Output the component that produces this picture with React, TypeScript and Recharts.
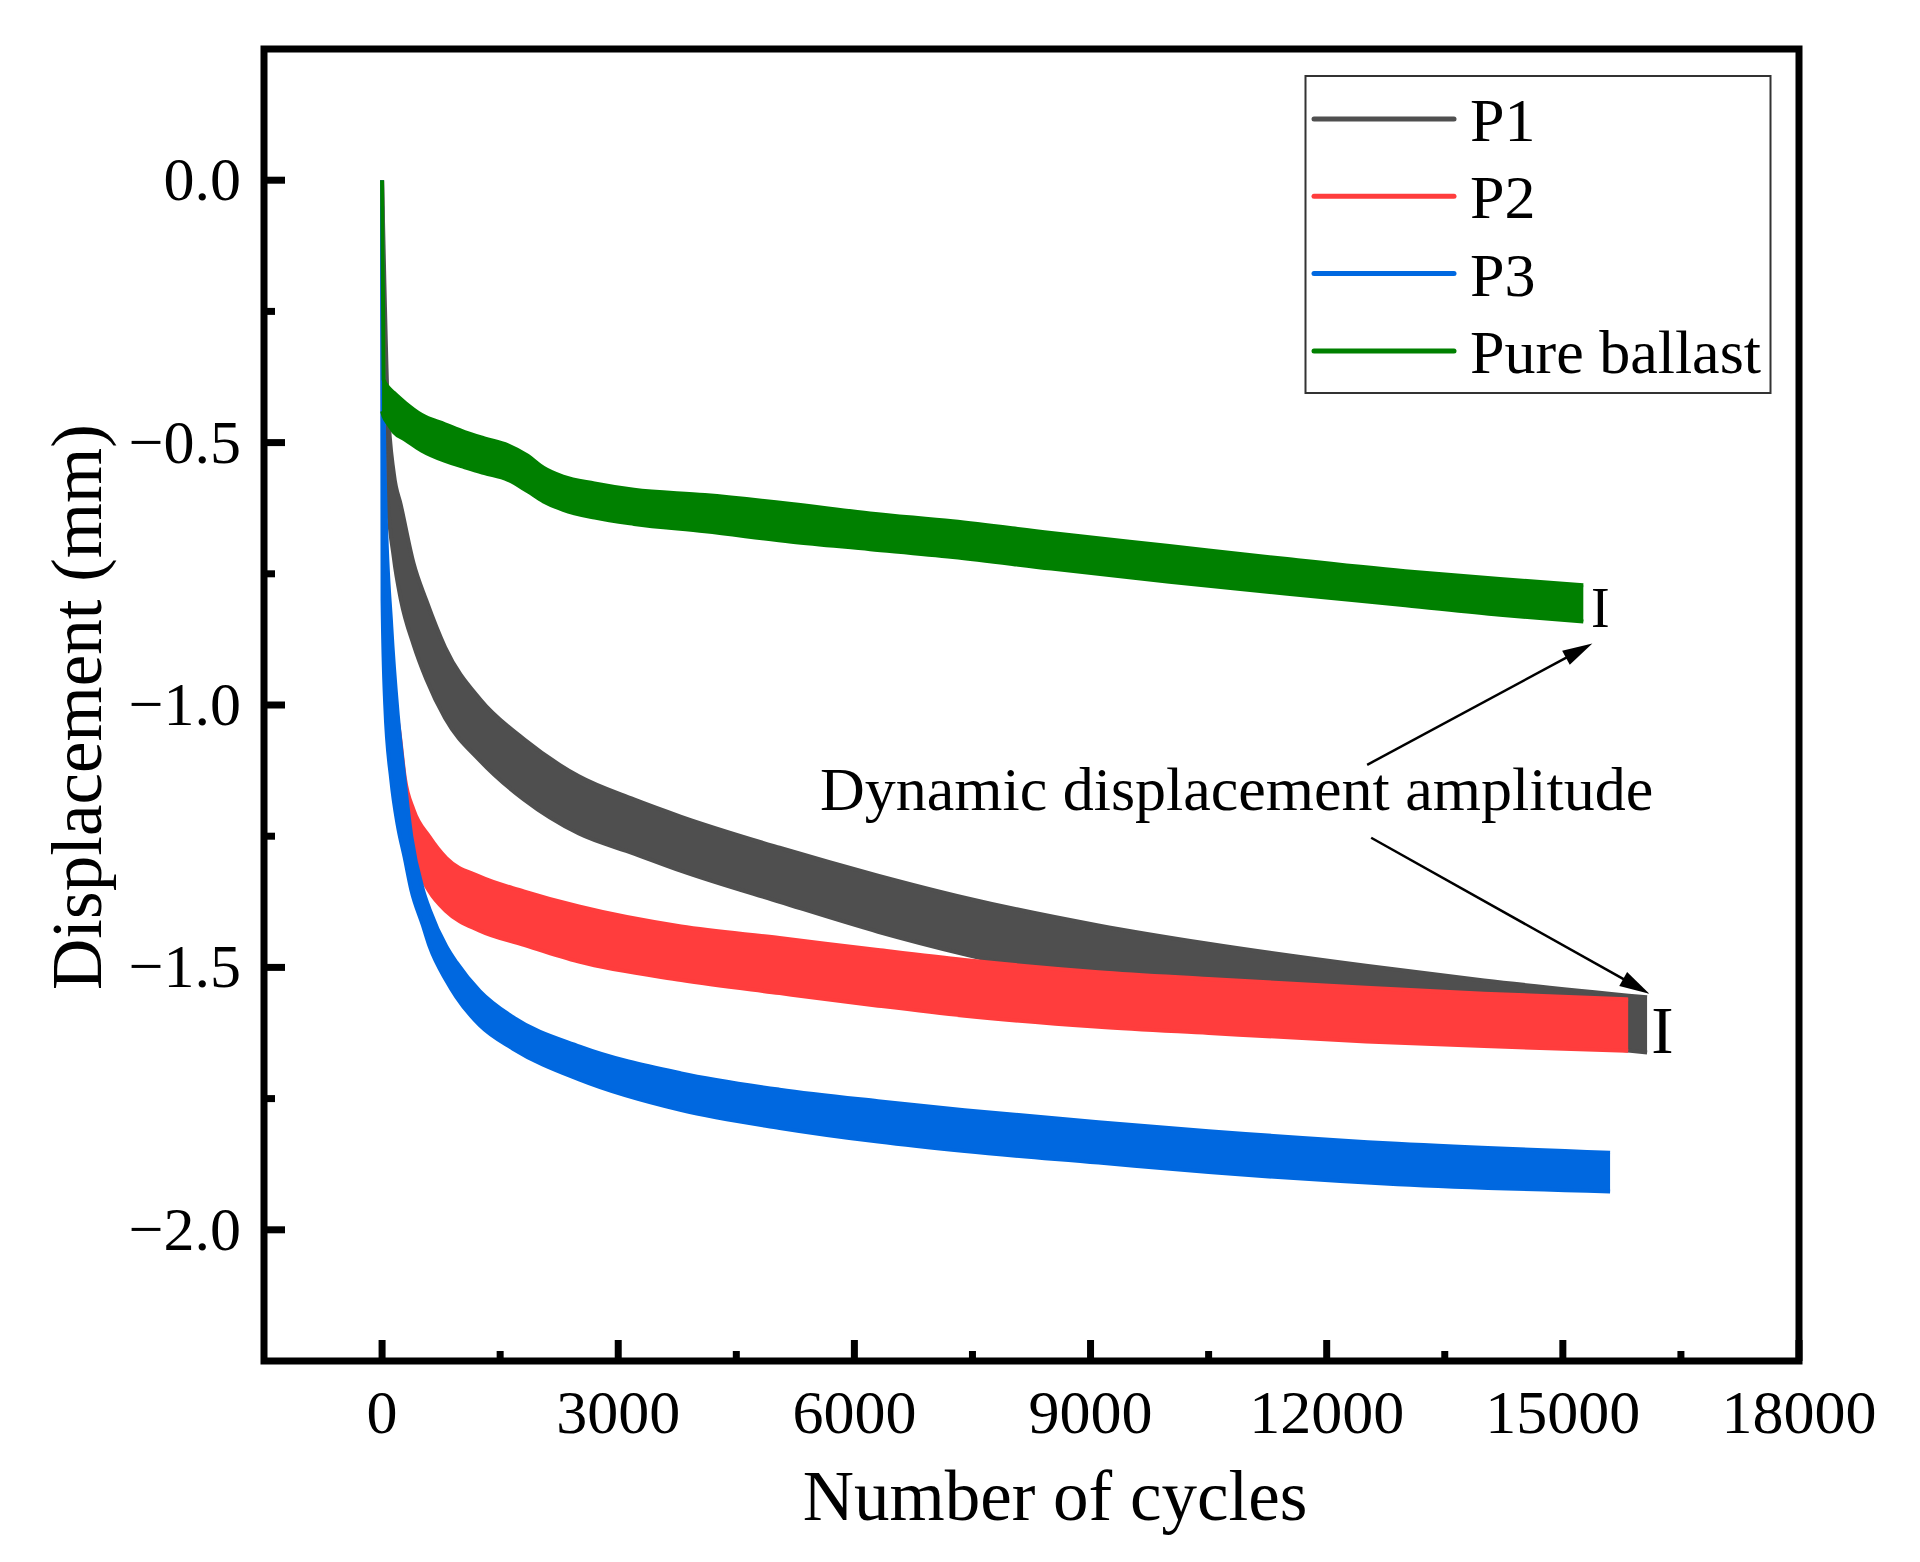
import React from "react"
import { ComposedChart, Area, XAxis, YAxis, ReferenceLine, ReferenceDot, ReferenceArea } from "recharts"

const FONT = '"Liberation Serif", "Times New Roman", serif'

// axes
const xDomain = [-1500, 18000]
const yDomain = [-2.25, 0.25]
const xTicks = [0, 1500, 3000, 4500, 6000, 7500, 9000, 10500, 12000, 13500, 15000, 16500, 18000]
const xMajor = [0, 3000, 6000, 9000, 12000, 15000, 18000]
const yTicks = [0, -0.25, -0.5, -0.75, -1, -1.25, -1.5, -1.75, -2]
const yMajor = [0, -0.5, -1, -1.5, -2]

// P1
const p1Cycles = [0, 30, 70, 150, 240, 400, 560, 800, 1250, 1800, 2500, 3200, 3800, 5050, 6300, 7400, 9100, 10500, 12500, 14000, 16070]
const p1Upper = [0, -0.2, -0.42, -0.56, -0.62, -0.73, -0.8, -0.89, -0.99, -1.065, -1.136, -1.18, -1.213, -1.272, -1.325, -1.367, -1.42, -1.455, -1.497, -1.525, -1.557]
const p1Lower = [-0.05, -0.42, -0.6, -0.72, -0.8, -0.885, -0.95, -1.025, -1.107, -1.18, -1.245, -1.283, -1.316, -1.375, -1.432, -1.475, -1.53, -1.565, -1.605, -1.63, -1.662]

// P2
const p2Cycles = [0, 20, 70, 150, 222, 290, 400, 600, 816, 1240, 1800, 2500, 3800, 5050, 6300, 7400, 9100, 10500, 12500, 14000, 15830]
const p2Upper = [0, -0.45, -0.86, -0.98, -1.054, -1.14, -1.2, -1.251, -1.292, -1.327, -1.355, -1.384, -1.422, -1.444, -1.467, -1.486, -1.509, -1.522, -1.539, -1.55, -1.561]
const p2Lower = [-0.05, -0.85, -1.02, -1.1, -1.16, -1.22, -1.29, -1.355, -1.393, -1.43, -1.457, -1.489, -1.524, -1.549, -1.573, -1.592, -1.613, -1.625, -1.641, -1.65, -1.659]

// P3
const p3Cycles = [0, 6, 40, 117, 200, 286, 371, 519, 604, 816, 943, 1240, 1663, 2511, 3800, 5050, 6300, 7400, 9100, 10500, 12900, 15600]
const p3Upper = [0, -0.2, -0.6, -0.85, -1.02, -1.143, -1.25, -1.352, -1.39, -1.46, -1.49, -1.545, -1.595, -1.651, -1.702, -1.733, -1.755, -1.772, -1.795, -1.812, -1.836, -1.853]
const p3Lower = [-0.05, -0.8, -1.0, -1.143, -1.23, -1.29, -1.352, -1.42, -1.46, -1.525, -1.556, -1.61, -1.655, -1.714, -1.772, -1.806, -1.832, -1.85, -1.872, -1.89, -1.913, -1.927]

// Pure ballast
const pbCycles = [0, 20, 80, 150, 300, 500, 800, 1050, 1300, 1600, 1850, 2050, 2300, 2700, 3200, 4100, 5200, 6200, 7250, 8500, 10000, 11500, 13000, 14200, 15260]
const pbUpper = [0, -0.38, -0.395, -0.405, -0.425, -0.447, -0.465, -0.48, -0.492, -0.505, -0.525, -0.548, -0.565, -0.578, -0.59, -0.6, -0.617, -0.635, -0.65, -0.672, -0.697, -0.722, -0.745, -0.76, -0.772]
const pbLower = [-0.44, -0.45, -0.465, -0.48, -0.495, -0.515, -0.535, -0.547, -0.558, -0.571, -0.593, -0.612, -0.628, -0.643, -0.655, -0.669, -0.689, -0.703, -0.718, -0.74, -0.765, -0.788, -0.81, -0.828, -0.841]

// annotation anchors (data coordinates)
const noteText = "Dynamic displacement amplitude"
const notePos = { x: 10855, y: -1.2 }
const arrowTails = [{ x: 12514, y: -1.114 }, { x: 12565, y: -1.253 }]
const arrowHeads = [{ x: 15375, y: -0.883 }, { x: 16099, y: -1.55 }]
const ampMarks = [{ x: 15476, y: -0.851, size: 56 }, { x: 16264, y: -1.663, size: 67 }]

const toRows = (xs: number[], lo: number[], hi: number[]) =>
  xs.map((x, i) => ({ x, range: [lo[i], hi[i]] }))

const series = [
  { name: "P1", color: "#4f4f4f", rows: toRows(p1Cycles, p1Lower, p1Upper) },
  { name: "P2", color: "#ff3d3d", rows: toRows(p2Cycles, p2Lower, p2Upper) },
  { name: "P3", color: "#0068e0", rows: toRows(p3Cycles, p3Lower, p3Upper) },
  { name: "Pure ballast", color: "#008000", rows: toRows(pbCycles, pbLower, pbUpper) },
]

function XTick(props: any) {
  const { x, y, payload } = props
  const major = xMajor.includes(payload.value)
  return (
    <g>
      <line x1={x} x2={x} y1={y} y2={y - (major ? 21 : 10)} stroke="#000" strokeWidth={7} />
      {major && (
        <text x={x} y={y + 72} textAnchor="middle" fontSize={62} fontFamily={FONT} fill="#000">
          {payload.value}
        </text>
      )}
    </g>
  )
}

function YTick(props: any) {
  const { x, y, payload } = props
  const major = yMajor.some((v) => Math.abs(v - payload.value) < 1e-9)
  const label = payload.value === 0 ? "0.0" : payload.value.toFixed(1).replace("-", "\u2212")
  return (
    <g>
      <line x1={x} x2={x + (major ? 21 : 11)} y1={y} y2={y} stroke="#000" strokeWidth={7} />
      {major && (
        <text x={x - 23} y={y + 20} textAnchor="end" fontSize={62} fontFamily={FONT} fill="#000">
          {label}
        </text>
      )}
    </g>
  )
}

function arrowShape(props: any) {
  const { x1, y1, x2, y2 } = props
  const dx = x2 - x1
  const dy = y2 - y1
  const len = Math.hypot(dx, dy) || 1
  const ux = dx / len
  const uy = dy / len
  const hl = 30
  const hw = 8
  const bx = x2 - ux * hl
  const by = y2 - uy * hl
  return (
    <g>
      <line x1={x1} y1={y1} x2={bx + ux * 2} y2={by + uy * 2} stroke="#000" strokeWidth={2.5} />
      <polygon
        points={`${x2},${y2} ${bx - uy * hw},${by + ux * hw} ${bx + uy * hw},${by - ux * hw}`}
        fill="#000"
      />
    </g>
  )
}

export default function App() {
  return (
    <div style={{ position: "absolute", left: 0, top: 0, width: 1920, height: 1562, background: "#fff" }}>
      <ComposedChart width={1920} height={1562} margin={{ top: 49, right: 121, bottom: 0, left: 0 }}>
        <XAxis
          type="number"
          dataKey="x"
          domain={xDomain}
          ticks={xTicks}
          interval={0}
          allowDataOverflow
          height={201}
          tickSize={0}
          tickMargin={0}
          tickLine={false}
          axisLine={false}
          tick={<XTick />}
        />
        <YAxis
          type="number"
          domain={yDomain}
          ticks={yTicks}
          interval={0}
          allowDataOverflow
          width={264}
          tickSize={0}
          tickMargin={0}
          tickLine={false}
          axisLine={false}
          tick={<YTick />}
        />
        {series.map((s) => (
          <Area
            key={s.name}
            name={s.name}
            data={s.rows}
            dataKey="range"
            type="monotone"
            fill={s.color}
            fillOpacity={1}
            stroke={s.color}
            strokeWidth={4}
            strokeLinejoin="round"
            isAnimationActive={false}
          />
        ))}
        <ReferenceArea
          x1={xDomain[0]}
          x2={xDomain[1]}
          y1={yDomain[0]}
          y2={yDomain[1]}
          fill="none"
          fillOpacity={0}
          stroke="#000"
          strokeWidth={7}
          strokeOpacity={1}
        />
        {arrowTails.map((t, i) => (
          <ReferenceLine key={`arrow-${i}`} segment={[t, arrowHeads[i]]} shape={arrowShape} />
        ))}
        <ReferenceDot
          x={notePos.x}
          y={notePos.y}
          r={1}
          shape={(p: any) => (
            <text x={p.cx} y={p.cy} textAnchor="middle" fontSize={62} fontFamily={FONT} fill="#000">
              {noteText}
            </text>
          )}
        />
        {ampMarks.map((m, i) => (
          <ReferenceDot
            key={`mark-${i}`}
            x={m.x}
            y={m.y}
            r={1}
            shape={(p: any) => (
              <text x={p.cx} y={p.cy} textAnchor="middle" fontSize={m.size} fontFamily={FONT} fill="#000">
                I
              </text>
            )}
          />
        ))}
      </ComposedChart>
      <svg
        width={1920}
        height={1562}
        style={{ position: "absolute", left: 0, top: 0, pointerEvents: "none" }}
      >
        <text x={1055} y={1520} textAnchor="middle" fontSize={71} fontFamily={FONT} fill="#000">
          Number of cycles
        </text>
        <text
          x={101}
          y={707}
          transform="rotate(-90 101 707)"
          textAnchor="middle"
          fontSize={71}
          fontFamily={FONT}
          fill="#000"
        >
          Displacement (mm)
        </text>
        <rect x={1305.5} y={76} width={465} height={317} fill="#fff" stroke="#333" strokeWidth={2} />
        {series.map((s, i) => (
          <g key={s.name}>
            <line
              x1={1314}
              x2={1454}
              y1={119 + i * 77.3}
              y2={119 + i * 77.3}
              stroke={s.color}
              strokeWidth={5}
              strokeLinecap="round"
            />
            <text x={1470} y={141 + i * 77.3} fontSize={62} fontFamily={FONT} fill="#000">
              {s.name}
            </text>
          </g>
        ))}
      </svg>
    </div>
  )
}
